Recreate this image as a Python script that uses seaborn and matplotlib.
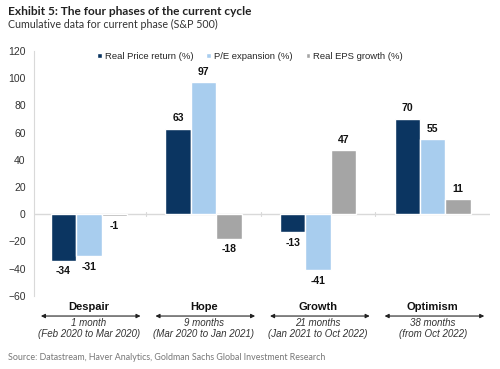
import matplotlib.pyplot as plt
import seaborn as sns
import pandas as pd

# Data
phases = ['Despair', 'Hope', 'Growth', 'Optimism']
durations = ['1 month', '9 months', '21 months', '38 months']
periods = ['(Feb 2020 to Mar 2020)', '(Mar 2020 to Jan 2021)',
           '(Jan 2021 to Oct 2022)', '(from Oct 2022)']
series = ['Real Price return (%)', 'P/E expansion (%)', 'Real EPS growth (%)']
price_return = [-34, 63, -13, 70]
pe_expansion = [-31, 97, -41, 55]
eps_growth = [-1, -18, 47, 11]
y_ticks = [-60, -40, -20, 0, 20, 40, 60, 80, 100, 120]

colors = ['#0b3561', '#a8cdee', '#a5a5a5']

df = pd.DataFrame({
    'Phase': phases * 3,
    'Series': [s for s in series for _ in phases],
    'Value': price_return + pe_expansion + eps_growth,
})

sns.set_style('white')
plt.rcParams['font.family'] = ['Liberation Sans', 'DejaVu Sans']

fig = plt.figure(figsize=(5, 3.69), dpi=100)
ax = fig.add_axes([0.068, 0.198, 0.912, 0.664])

sns.barplot(data=df, x='Phase', y='Value', hue='Series', order=phases,
            hue_order=series, palette=colors, width=0.667, saturation=1,
            errorbar=None, ax=ax)

for cont in ax.containers:
    ax.bar_label(cont, fmt='%d', padding=4, fontsize=7.5, fontweight='bold',
                 color='#111111')

ax.set_xlim(-0.48, 3.5)
ax.set_ylim(-60, 120)
ax.set_yticks(y_ticks)
ax.tick_params(axis='y', labelsize=7.5, labelcolor='#333333', length=0, pad=6)
ax.set_xticks([])
ax.set_xlabel('')
ax.set_ylabel('')
for side in ['top', 'right', 'bottom']:
    ax.spines[side].set_visible(False)
ax.spines['left'].set_color('#d9d9d9')
ax.axhline(0, color='#d9d9d9', lw=1, zorder=0)
for b in [0.5, 1.5, 2.5]:
    ax.plot([b, b], [-1.5, 1.5], color='#d9d9d9', lw=0.8, zorder=0)

# category labels with arrows below the axis
tr = ax.get_xaxis_transform()
for i, (p, d, per) in enumerate(zip(phases, durations, periods)):
    ax.text(i, -0.045, p, transform=tr, ha='center', va='center',
            fontsize=8, fontweight='bold', color='#111111')
    ax.annotate('', xy=(i - 0.42, -0.082), xytext=(i + 0.45, -0.082),
                xycoords=tr, textcoords=tr,
                arrowprops=dict(arrowstyle='<|-|>', color='#222222', lw=0.8,
                                mutation_scale=6, shrinkA=0, shrinkB=0))
    ax.text(i, -0.11, d, transform=tr, ha='center', va='center',
            fontsize=7, fontstyle='italic', color='#333333')
    ax.text(i, -0.155, per, transform=tr, ha='center', va='center',
            fontsize=7, fontstyle='italic', color='#333333')

leg = ax.legend(loc='center', bbox_to_anchor=(0.5, 0.848),
                bbox_transform=fig.transFigure, ncol=3, frameon=False,
                fontsize=6.8, handlelength=0.5, handleheight=0.5,
                handletextpad=0.3, columnspacing=1.4)

fig.text(0.016, 0.970, 'Exhibit 5: The four phases of the current cycle',
         fontsize=8.6, fontweight='bold', family='Lato', color='#222222',
         va='center')
fig.text(0.016, 0.933, 'Cumulative data for current phase (S&P 500)',
         fontsize=7.7, family='Lato', color='#333333', va='center')
fig.text(0.016, 0.032,
         'Source: Datastream, Haver Analytics, Goldman Sachs Global Investment Research',
         fontsize=6.4, family='Lato', color='#777777', va='center')

fig.savefig('out.png', dpi=100)
